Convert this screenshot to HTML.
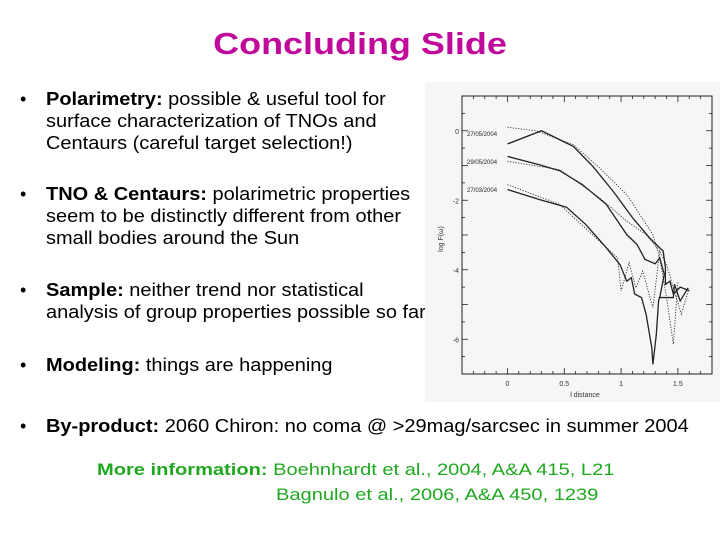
<!DOCTYPE html>
<html><head><meta charset="utf-8"><style>
body{margin:0;width:720px;height:540px;background:#fff;position:relative;overflow:hidden;font-family:"Liberation Sans",Arial,sans-serif;color:#000}
.t{position:absolute}
.title{left:0;width:720px;top:26px;text-align:center;font-size:31px;font-weight:bold;color:#c0089b;transform:scaleX(1.16)}
.b{position:absolute;left:20px;font-size:18px;line-height:22px}
.b .dot{position:absolute;left:0}
.b .tx{position:absolute;left:26px;white-space:nowrap;transform:scaleX(1.11);transform-origin:0 0}
.more{position:absolute;font-size:17px;color:#1fa81f;white-space:nowrap;transform:scaleX(1.18);transform-origin:0 0}
</style></head><body>
<div class="t title">Concluding Slide</div>

<div class="b" style="top:88px"><span class="dot">•</span><span class="tx"><b>Polarimetry:</b> possible &amp; useful tool for<br>surface characterization of TNOs and<br>Centaurs (careful target selection!)</span></div>
<div class="b" style="top:183px"><span class="dot">•</span><span class="tx"><b>TNO &amp; Centaurs:</b> polarimetric properties<br>seem to be distinctly different from other<br>small bodies around the Sun</span></div>
<div class="b" style="top:279px"><span class="dot">•</span><span class="tx"><b>Sample:</b> neither trend nor statistical<br>analysis of group properties possible so far</span></div>
<div class="b" style="top:354px"><span class="dot">•</span><span class="tx"><b>Modeling:</b> things are happening</span></div>
<div class="b" style="top:415px"><span class="dot">•</span><span class="tx"><b>By-product:</b> 2060 Chiron: no coma @ &gt;29mag/sarcsec in summer 2004</span></div>
<div class="more" style="left:97px;top:460px"><b>More information:</b> Boehnhardt et al., 2004, A&amp;A 415, L21</div>
<div class="more" style="left:276px;top:485px">Bagnulo et al., 2006, A&amp;A 450, 1239</div>

<svg id="chart" style="position:absolute;left:0;top:0" width="720" height="540">
<rect x="425" y="82" width="295" height="320" fill="#f6f6f6"/>
<g id="g"></g>
</svg>
<script>
const xTicks=[0,0.5,1,1.5];
const xTickLabels=["0","0.5","1","1.5"];
const yTicks=[0,-2,-4,-6];
const yTickLabels=["0","-2","-4","-6"];
const seriesLabels=["27/05/2004","29/05/2004","27/03/2004"];
const labelY=[-0.1,-0.9,-1.7];
const s1x=[0,0.3,0.58,0.75,0.93,1.1,1.25,1.34,1.37,1.39,1.39,1.43,1.46,1.52,1.56,1.6];
const s1y=[-0.38,0,-0.45,-1.02,-1.74,-2.5,-3.08,-3.37,-3.46,-3.94,-4.42,-4.33,-4.7,-4.5,-4.55,-4.6];
const s2x=[0,0.28,0.46,0.66,0.87,1.05,1.14,1.21,1.3,1.34,1.38,1.34,1.46,1.47,1.52,1.59];
const s2y=[-0.74,-0.98,-1.15,-1.55,-2.12,-2.99,-3.27,-3.7,-3.83,-3.66,-4.13,-4.8,-4.8,-4.42,-4.9,-4.52];
const s3x=[0,0.28,0.52,0.69,0.87,0.99,1.05,1.09,1.12,1.18,1.22,1.27,1.28,1.31,1.33,1.34];
const s3y=[-1.69,-1.98,-2.2,-2.7,-3.37,-3.85,-4.33,-4.23,-4.7,-4.8,-5.28,-6.24,-6.72,-5.86,-4.9,-4.78];
const d1x=[0,0.25,0.58,0.81,1.05,1.28,1.34,1.4,1.46,1.5];
const d1y=[0.1,0,-0.4,-1.07,-1.84,-2.99,-3.66,-4.8,-6.14,-4.33];
const d2x=[0,0.46,0.81,1.05,1.22,1.34,1.4,1.46,1.53,1.59];
const d2y=[-0.88,-1.12,-1.93,-2.6,-2.99,-3.46,-3.85,-4.52,-5.28,-4.61];
const d3x=[0,0.46,0.81,0.97,1.0,1.07,1.13,1.19,1.28,1.34];
const d3y=[-1.55,-2.12,-3.18,-3.66,-4.61,-3.8,-4.52,-4.04,-5.09,-3.46];

const L=462,R=712,T=96,B=374,xMin=-0.4,xMax=1.8,yMin=-7,yMax=1;
const X=v=>L+(v-xMin)/(xMax-xMin)*(R-L);
const Y=v=>B-(v-yMin)/(yMax-yMin)*(B-T);
const g=document.getElementById('g');
const NS='http://www.w3.org/2000/svg';
function mk(t,a){const e=document.createElementNS(NS,t);for(const k in a)e.setAttribute(k,a[k]);g.appendChild(e);return e;}
let fr=mk('rect',{x:L,y:T,width:R-L,height:B-T,fill:'none',stroke:'#222','stroke-width':1});


for(let v=-0.3;v<1.8;v+=0.1){const x=X(v);const big=Math.abs(v*2-Math.round(v*2))<1e-6;const l=big?6:3;
mk('line',{x1:x,y1:B,x2:x,y2:B-l,stroke:'#222','stroke-width':0.8});mk('line',{x1:x,y1:T,x2:x,y2:T+l,stroke:'#222','stroke-width':0.8});}
for(let v=-6.5;v<1;v+=0.5){const y=Y(v);const big=Math.abs(v-Math.round(v))<1e-6;const l=big?6:3;
mk('line',{x1:L,y1:y,x2:L+l,y2:y,stroke:'#222','stroke-width':0.8});mk('line',{x1:R,y1:y,x2:R-l,y2:y,stroke:'#222','stroke-width':0.8});}
xTicks.forEach((v,i)=>{const t=mk('text',{x:X(v),y:B+12,'font-size':7,'text-anchor':'middle',fill:'#333','font-family':'Liberation Sans'});t.textContent=xTickLabels[i];

});
yTicks.forEach((v,i)=>{const t=mk('text',{x:L-3,y:Y(v)+3,'font-size':7,'text-anchor':'end',fill:'#333','font-family':'Liberation Sans'});t.textContent=yTickLabels[i];

});
let xt=mk('text',{x:585,y:397,'font-size':7,'text-anchor':'middle',fill:'#333','font-family':'Liberation Sans'});xt.textContent='l distance';


let yt=mk('text',{x:0,y:0,'font-size':7,'text-anchor':'middle',fill:'#333','font-family':'Liberation Sans',transform:'translate(443,239) rotate(-90)'});yt.textContent='log F(ω)';


seriesLabels.forEach((s,i)=>{const t=mk('text',{x:467,y:Y(labelY[i])+2,'font-size':6,fill:'#222','font-family':'Liberation Sans'});t.textContent=s;

});
function line(xs,ys,dash,name){const p=mk('polyline',{points:xs.map((v,i)=>X(v)+','+Y(ys[i])).join(' '),fill:'none',stroke:dash?'#333':'#222','stroke-width':dash?0.9:1.3,'stroke-dasharray':dash?'1.2,1.5':'none'});

}
line(d1x,d1y,true,'series-27-05-dotted');line(d2x,d2y,true,'series-29-05-dotted');line(d3x,d3y,true,'series-27-03-dotted');
line(s1x,s1y,false,'series-27-05');line(s2x,s2y,false,'series-29-05');line(s3x,s3y,false,'series-27-03');
</script>
</body></html>
